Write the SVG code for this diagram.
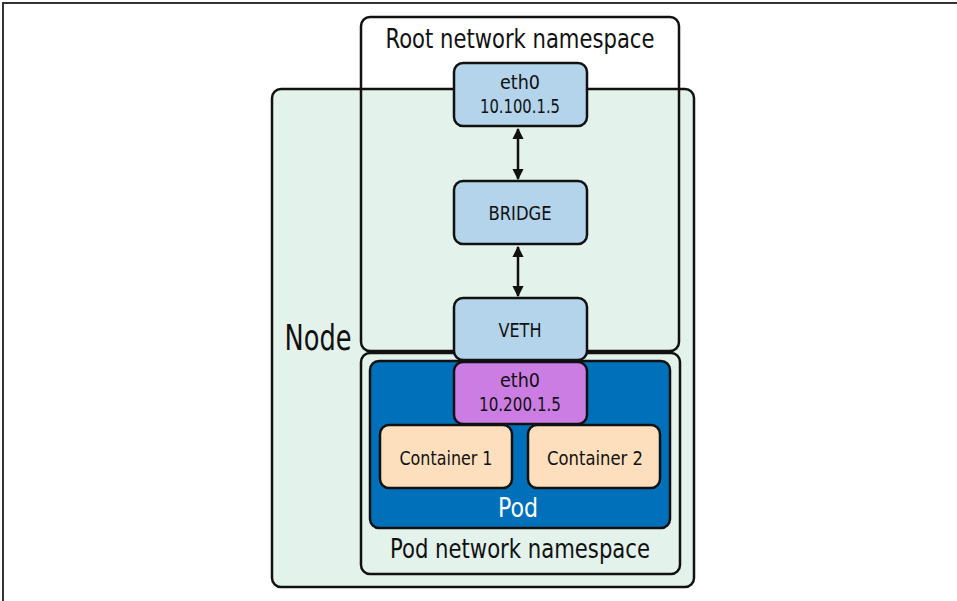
<svg xmlns="http://www.w3.org/2000/svg" width="957" height="601" viewBox="0 0 957 601">
<style>
  text { font-family: "DejaVu Sans Condensed", "Liberation Sans", sans-serif; fill: #111; text-anchor: middle; }
  .box { stroke: #111; stroke-width: 2.5; }
  .iface { fill: #b3d4ea; }
  .ns { fill: #e3f2eb; }
  .lbl { font-size: 20px; }
  .big { font-size: 27px; }
  .conn { stroke: #111; stroke-width: 2.5; fill: none; }
</style>
<defs>
  <marker id="ah" viewBox="0 0 10 10" refX="9" refY="5" markerWidth="4.5" markerHeight="4.5" orient="auto-start-reverse">
    <path d="M0,0 L10,5 L0,10 z" fill="#111"/>
  </marker>
</defs>
<rect x="0" y="0" width="957" height="601" fill="#fff"/>
<path d="M3,601 L3,3 L957,3" fill="none" stroke="#333" stroke-width="2"/>

<g id="node">
  <rect class="box ns" x="272" y="89" width="422" height="498" rx="9"/>
  <text x="318" y="350" style="font-size:36px" textLength="67" lengthAdjust="spacingAndGlyphs">Node</text>
</g>
<g id="root-ns">
  <rect class="box" fill="none" x="361" y="17" width="318" height="334" rx="9"/>
  <text class="big" x="520" y="48" textLength="269" lengthAdjust="spacingAndGlyphs">Root network namespace</text>
</g>
<g id="pod-ns">
  <rect class="box ns" x="361" y="353" width="319" height="221" rx="9"/>
  <text class="big" x="520" y="558" textLength="260" lengthAdjust="spacingAndGlyphs">Pod network namespace</text>
</g>
<g id="pod">
  <rect class="box" fill="#0070bb" x="370" y="361" width="300" height="167" rx="9"/>
  <text class="big" x="518" y="517" style="fill:#fff" textLength="40" lengthAdjust="spacingAndGlyphs">Pod</text>
</g>
<g id="eth0-root">
  <rect class="box iface" x="454" y="63" width="133" height="63" rx="9"/>
  <text class="lbl" x="520" y="89" textLength="40" lengthAdjust="spacingAndGlyphs">eth0</text>
  <text class="lbl" x="520" y="113" textLength="80" lengthAdjust="spacingAndGlyphs">10.100.1.5</text>
</g>
<g id="bridge">
  <rect class="box iface" x="454" y="181" width="133" height="63" rx="9"/>
  <text class="lbl" x="520" y="220" textLength="63" lengthAdjust="spacingAndGlyphs">BRIDGE</text>
</g>
<g id="veth">
  <rect class="box iface" x="454" y="298" width="133" height="62" rx="9"/>
  <text class="lbl" x="520" y="337" textLength="43" lengthAdjust="spacingAndGlyphs">VETH</text>
</g>
<g id="eth0-pod">
  <rect class="box" fill="#cc7de3" x="454" y="362" width="133" height="62" rx="9"/>
  <text class="lbl" x="520" y="387" textLength="40" lengthAdjust="spacingAndGlyphs">eth0</text>
  <text class="lbl" x="520" y="411" textLength="82" lengthAdjust="spacingAndGlyphs">10.200.1.5</text>
</g>
<g id="container1">
  <rect class="box" fill="#fddfbd" x="380" y="425" width="132" height="63" rx="9"/>
  <text class="lbl" x="446" y="465" textLength="93" lengthAdjust="spacingAndGlyphs">Container 1</text>
</g>
<g id="container2">
  <rect class="box" fill="#fddfbd" x="528" y="425" width="132" height="63" rx="9"/>
  <text class="lbl" x="595" y="465" textLength="96" lengthAdjust="spacingAndGlyphs">Container 2</text>
</g>
<g id="connectors">
  <line class="conn" x1="518" y1="129" x2="518" y2="179" marker-start="url(#ah)" marker-end="url(#ah)"/>
  <line class="conn" x1="518" y1="247" x2="518" y2="296" marker-start="url(#ah)" marker-end="url(#ah)"/>
</g>
</svg>
